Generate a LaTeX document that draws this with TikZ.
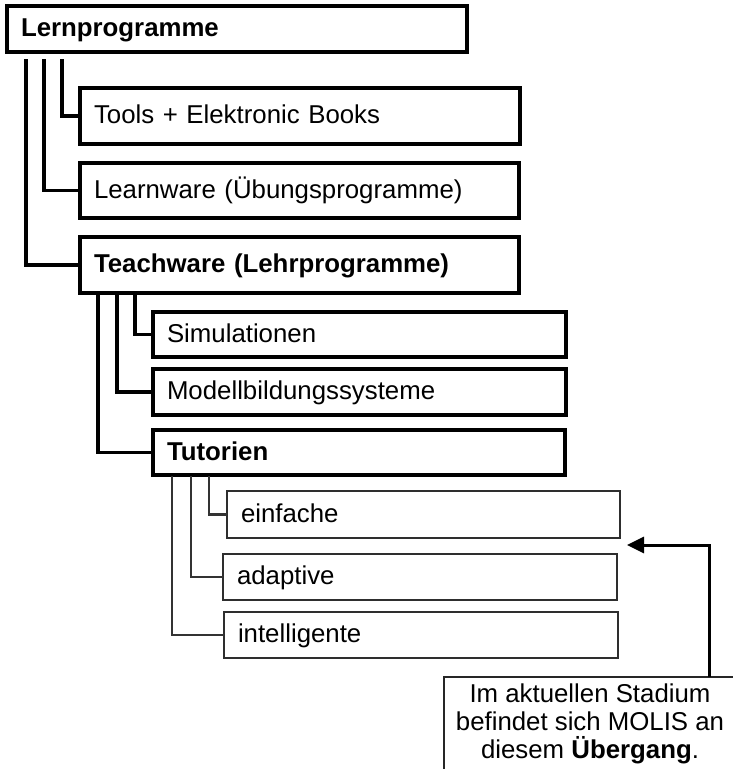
\documentclass[tikz,border=0pt]{standalone}
\usepackage{fontspec}
\setmainfont{Liberation Sans}
\usetikzlibrary{arrows.meta}
\begin{document}
\begin{tikzpicture}[x=1pt,y=-1pt,
  every node/.style={font=\fontsize{25.8}{28}\selectfont},
  bx/.style={draw=black, line width=3.2pt, rectangle, outer sep=0pt,
    inner xsep=14pt, inner ysep=0pt, text height=15pt, text depth=0pt, align=left},
  gbx/.style={bx, draw=black!82, line width=2.8pt},
  link/.style={draw=black, line width=3.2pt},
  glink/.style={draw=black!80, line width=2.4pt},
  notebox/.style={draw=black!85, line width=2.4pt, rectangle, outer sep=0pt},
  arrowlink/.style={draw=black, line width=3pt, -{Triangle[length=17pt,width=16pt]}},
]
\useasboundingbox (0,0) rectangle (733,769);

% level 0
\node[bx, minimum width=460pt, minimum height=46pt, text width=432pt] (L) at (237,29) {\textbf{Lernprogramme}};
% level 1
\node[bx, minimum width=440pt, minimum height=56pt, text width=412pt] (T) at (300,116) {Tools + Elektronic Books};
\node[bx, minimum width=439pt, minimum height=55pt, text width=411pt] (Lw) at (299.5,190.5) {Learnware (Übungsprogramme)};
\node[bx, minimum width=439pt, minimum height=56pt, text width=411pt] (Tw) at (299.5,265) {\textbf{Teachware (Lehrprogramme)}};
% level 2
\node[bx, minimum width=413pt, minimum height=45pt, text width=385pt] (S) at (359.5,334.5) {Simulationen};
\node[bx, minimum width=413pt, minimum height=46pt, text width=385pt] (M) at (359.5,392) {Modellbildungssysteme};
\node[bx, minimum width=412pt, minimum height=45pt, text width=384pt] (Tu) at (359,452.5) {\textbf{Tutorien}};
% level 3
\node[gbx, minimum width=393pt, minimum height=47pt, text width=365pt] (E) at (423.5,514.5) {einfache};
\node[gbx, minimum width=394pt, minimum height=46pt, text width=366pt] (A) at (420,577) {adaptive};
\node[gbx, minimum width=394pt, minimum height=46pt, text width=366pt] (I) at (421,635) {intelligente};

% connectors level 0 -> 1
\draw[link] ([xshift=55pt,yshift=-7pt]L.south west) |- (T.west);
\draw[link] ([xshift=37pt,yshift=-7pt]L.south west) |- (Lw.west);
\draw[link] ([xshift=19pt,yshift=-7pt]L.south west) |- (Tw.west);
% connectors level 1 -> 2
\draw[link] ([xshift=55pt]Tw.south west) |- (S.west);
\draw[link] ([xshift=37pt]Tw.south west) |- (M.west);
\draw[link] ([xshift=18pt]Tw.south west) |- (Tu.west);
% connectors level 2 -> 3
\draw[glink] ([xshift=56pt,yshift=-1pt]Tu.south west) |- (E.west);
\draw[glink] ([xshift=38pt,yshift=-1pt]Tu.south west) |- (A.west);
\draw[glink] ([xshift=19pt,yshift=-1pt]Tu.south west) |- (I.west);

% note
\node[notebox, minimum width=301pt, minimum height=108pt] (note) at (594.5,731) {};
\node[anchor=north, align=center, inner sep=0pt, font=\fontsize{25.8}{28}\selectfont] (notetext) at (590,683.5)
  {Im aktuellen Stadium\\befindet sich MOLIS an\\diesem \textbf{Übergang}.};
\coordinate (src) at (709,677);
\coordinate (tip) at (627,545);
\draw[arrowlink] (src) |- (tip);
\end{tikzpicture}
\end{document}
